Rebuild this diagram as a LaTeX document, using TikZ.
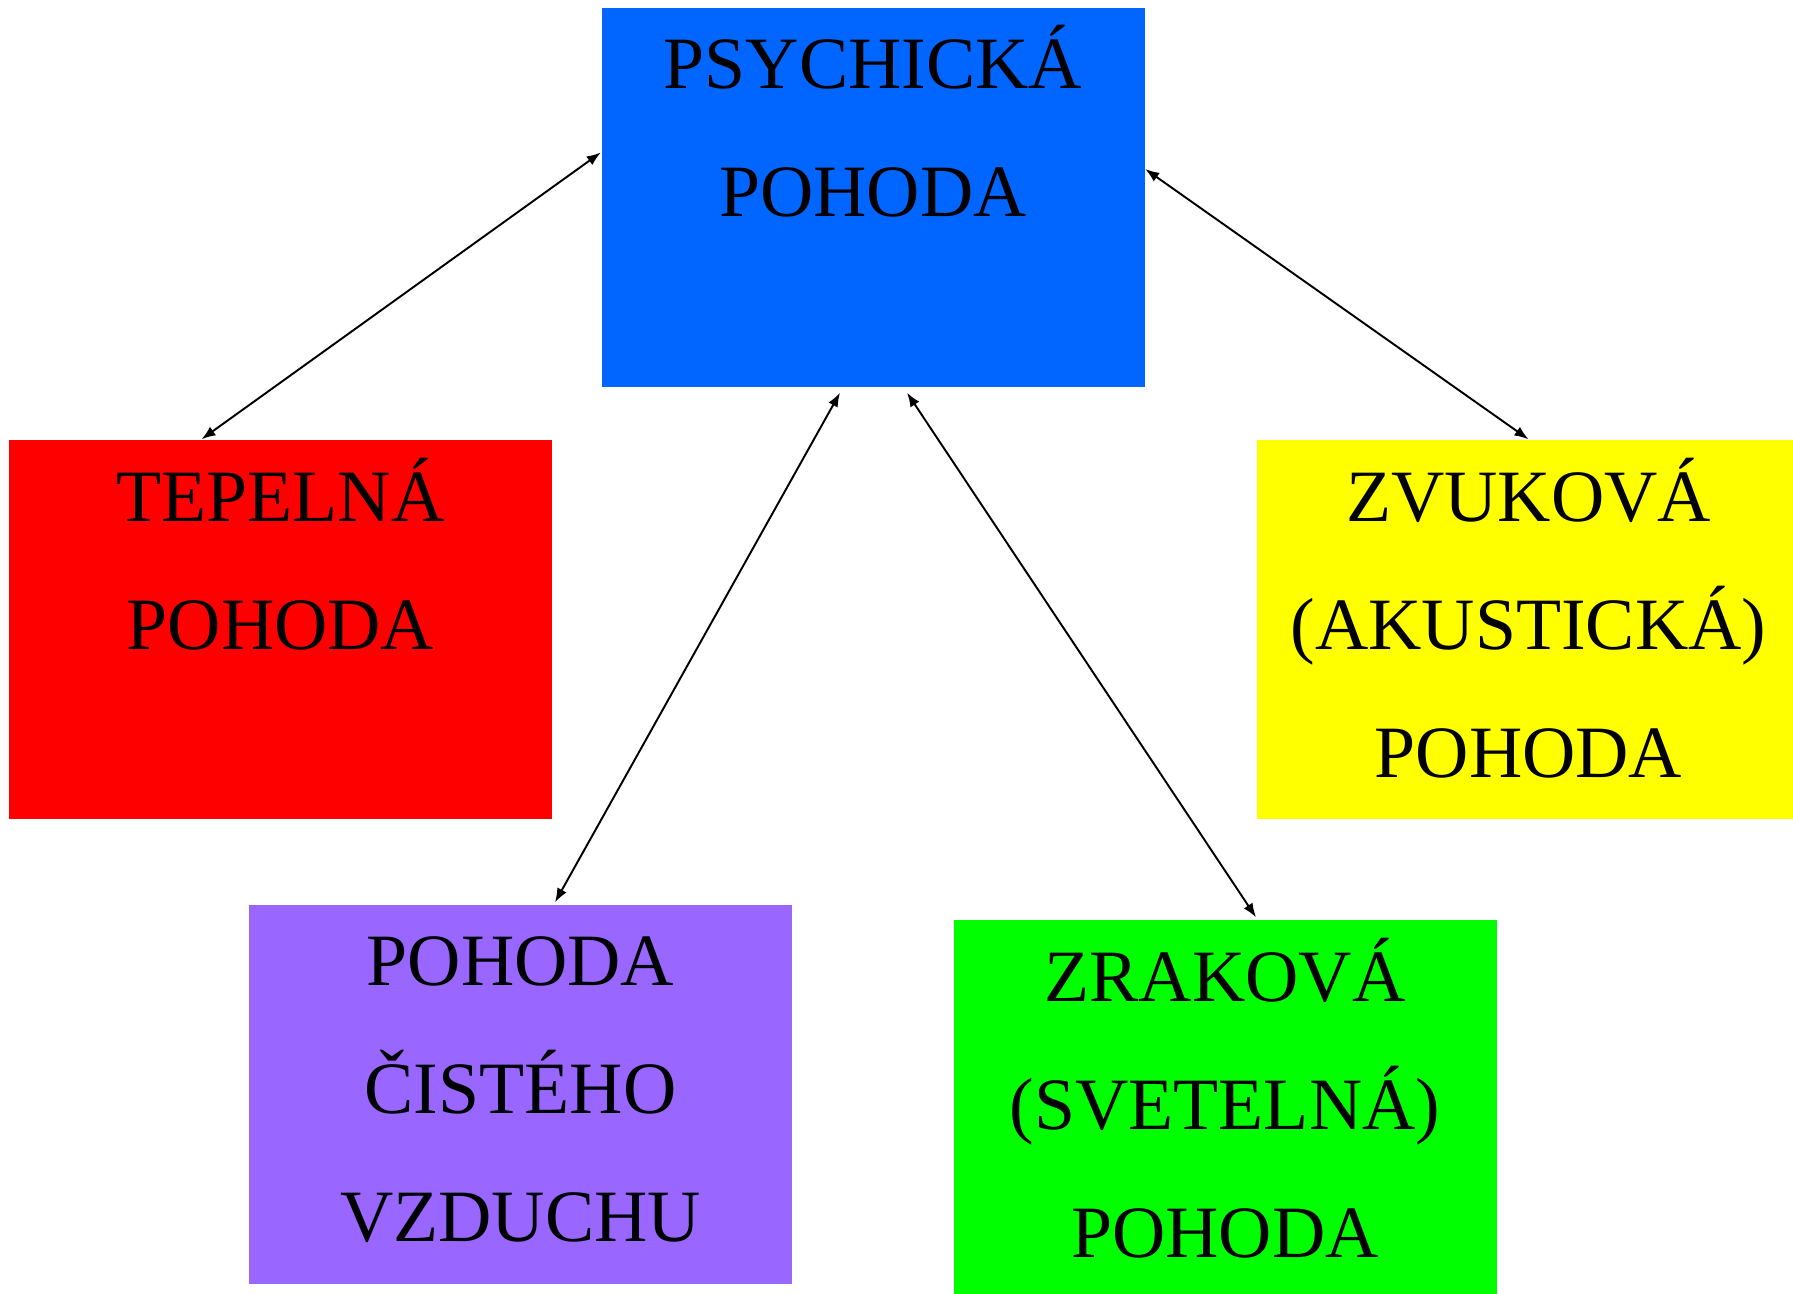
\documentclass[tikz,border=0pt]{standalone}
\usepackage{fontspec}
\setmainfont{Liberation Serif}
\usetikzlibrary{arrows.meta}
\definecolor{modra}{RGB}{0,102,255}
\definecolor{cervena}{RGB}{255,0,0}
\definecolor{zluta}{RGB}{255,255,0}
\definecolor{fialova}{RGB}{153,102,255}
\definecolor{zelena}{RGB}{0,255,0}
\begin{document}
\begin{tikzpicture}[
  box/.style={minimum width=5.43cm,minimum height=3.79cm,inner sep=0pt},
  txt/.style={anchor=base,inner sep=0pt,font=\fontsize{21}{36.5}\selectfont},
  arr/.style={{Latex[length=4pt,width=3pt]}-{Latex[length=4pt,width=3pt]},line width=0.55pt}]
\useasboundingbox (0,0) rectangle (17.93,-12.93);
\node[box,fill=modra] (psych) at (8.73,-1.975) {};
\node[box,fill=cervena] (tepel) at (2.805,-6.295) {};
\node[box,fill=zluta] (zvuk) at (15.285,-6.295) {};
\node[box,fill=fialova] (vzduch) at (5.205,-10.945) {};
\node[box,fill=zelena] (zrak) at (12.25,-11.095) {};
\node[txt] (psych-t) at ([yshift=-8.1mm]psych.north) {\parbox[t]{5.4cm}{\centering PSYCHICKÁ\\POHODA}};
\node[txt] (tepel-t) at ([yshift=-8.2mm]tepel.north) {\parbox[t]{5.4cm}{\centering TEPELNÁ\\POHODA}};
\node[txt] (zvuk-t) at ([yshift=-8.2mm]zvuk.north) {\parbox[t]{5.4cm}{\centering ZVUKOVÁ\\(AKUSTICKÁ)\\POHODA}};
\node[txt] (vzduch-t) at ([yshift=-8.1mm]vzduch.north) {\parbox[t]{5.4cm}{\centering POHODA\\ČISTÉHO\\VZDUCHU}};
\node[txt] (zrak-t) at ([yshift=-8.2mm]zrak.north) {\parbox[t]{5.4cm}{\centering ZRAKOVÁ\\(SVETELNÁ)\\POHODA}};
\draw[arr] ([yshift=4.5mm]psych.west) -- ([xshift=-7.9mm]tepel.north);
\draw[arr] ([yshift=2.85mm]psych.east) -- (zvuk.north);
\draw[arr] ([xshift=-3.3mm,yshift=-0.5mm]psych.south) -- ([xshift=3.45mm,yshift=0.2mm]vzduch.north);
\draw[arr] ([xshift=3.4mm,yshift=-0.5mm]psych.south) -- ([xshift=3.1mm,yshift=0.2mm]zrak.north);
\end{tikzpicture}
\end{document}
